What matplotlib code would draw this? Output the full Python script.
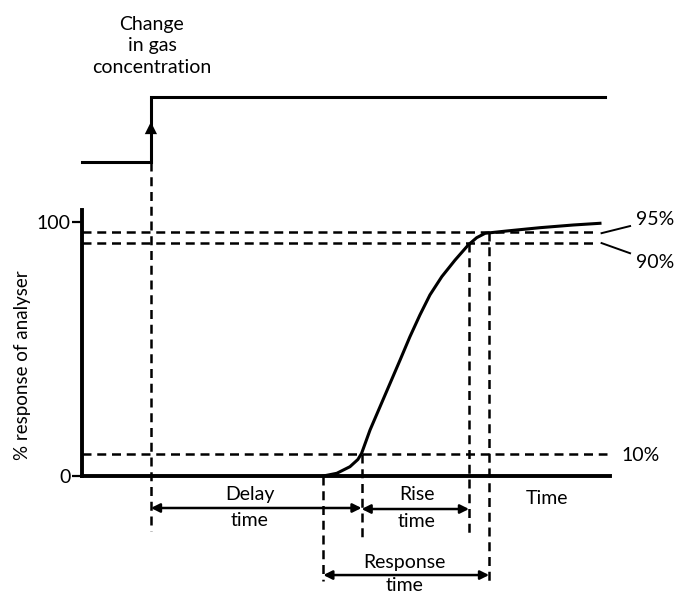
#!/usr/bin/env python3
"""Analyser response to a step change in gas concentration."""

import matplotlib.pyplot as plt

plt.rcParams['font.family'] = ['Lato', 'DejaVu Sans']

# --- data (time in arbitrary units, response in %) ---
curve_t = [9.14, 9.65, 10.15, 10.45, 10.59, 10.91, 11.29, 11.67, 12.05,
           12.42, 12.80, 13.18, 13.63, 14.13, 14.63, 14.95, 15.27, 16.09,
           17.35, 18.61, 19.62]
curve_pct = [0.0, 1.06, 3.66, 6.5, 8.9, 18.1, 27.3, 36.5, 45.7,
             54.8, 63.4, 71.3, 78.5, 85.0, 90.94, 93.82, 95.55, 96.46,
             97.76, 98.82, 99.49]

step_t = [0.0, 2.61, 2.61, 19.8]
step_level = [123.6, 123.6, 149.2, 149.2]

t_change = 2.61      # gas concentration steps
t_start = 9.14       # analyser starts to respond
t_10 = 10.59         # 10 % reached
t_90 = 14.66         # 90 % reached
t_95 = 15.42         # 95 % reached

levels = [8.7, 91.7, 96.1]
level_labels = ['10%', '90%', '95%']
yticks = [0, 100]

DASH = dict(color='black', lw=1.8, ls=(0, (3.6, 2.3)))
FS = 14


def harrow(ax, x0, x1, y):
    ax.annotate('', xy=(x1, y), xytext=(x0, y),
                arrowprops=dict(arrowstyle='<|-|>', color='black', lw=1.8,
                                mutation_scale=13, shrinkA=0, shrinkB=0))


fig = plt.figure(figsize=(6.76, 5.94), dpi=100)
ax = fig.add_axes([0, 0, 1, 1])
ax.set_xlim(-3.106, 22.5)
ax.set_ylim(-46.46, 187.4)

# axes as spines
for s in ('top', 'right'):
    ax.spines[s].set_visible(False)
ax.spines['left'].set_position(('data', 0))
ax.spines['bottom'].set_position(('data', 0))
ax.spines['left'].set_bounds(0, 104.7)
ax.spines['bottom'].set_bounds(0, 20.0)
ax.spines['left'].set_linewidth(2.8)
ax.spines['bottom'].set_linewidth(2.8)
ax.set_xticks([])
ax.set_yticks(yticks)
ax.set_yticklabels([str(v) for v in yticks], fontsize=FS)
ax.tick_params(axis='y', length=7, width=1.6, pad=1)

# step in gas concentration
ax.plot(step_t, step_level, color='black', lw=2.2, solid_joinstyle='miter')
ax.annotate('', xy=(t_change, 139.4), xytext=(t_change, 130),
            arrowprops=dict(arrowstyle='-|>', color='black', lw=0,
                            mutation_scale=22, shrinkA=0, shrinkB=0))

# response curve
ax.plot(curve_t, curve_pct, color='black', lw=2.2, solid_joinstyle='round')

# horizontal level lines
ax.plot([0, 19.5], [levels[2]] * 2, **DASH)
ax.plot([0, 19.5], [levels[1]] * 2, **DASH)
ax.plot([0, 19.9], [levels[0]] * 2, **DASH)
ax.plot([19.68, 20.76], [levels[2] - 0.5, 98.4], color='black', lw=1.4)
ax.plot([19.68, 20.76], [levels[1], 87.7], color='black', lw=1.4)
ax.text(21.0, 100.8, level_labels[2], fontsize=FS, va='center')
ax.text(21.0, 83.9, level_labels[1], fontsize=FS, va='center')
ax.text(20.45, 7.9, level_labels[0], fontsize=FS, va='center')

# vertical marker lines
ax.plot([t_change, t_change], [123.6, -21.5], **DASH)
ax.plot([t_start, t_start], [0, -41.5], **DASH)
ax.plot([t_10, t_10], [levels[0], -24], **DASH)
ax.plot([t_90, t_90], [levels[1], -24], **DASH)
ax.plot([t_95, t_95], [levels[2], -43], **DASH)

# interval arrows
harrow(ax, t_change, t_10, -12.6)
harrow(ax, t_10, t_90, -13.0)
harrow(ax, t_start, t_95, -39.0)

# texts
ax.text(2.65, 169.3, 'Change\nin gas\nconcentration', fontsize=FS,
        ha='center', va='center', linespacing=1.35)
ax.text(-2.25, 43.7, '% response of analyser', fontsize=13.5,
        rotation=90, ha='center', va='center')
ax.text(6.36, -7.3, 'Delay', fontsize=FS, ha='center', va='center')
ax.text(6.36, -17.7, 'time', fontsize=FS, ha='center', va='center')
ax.text(12.69, -7.3, 'Rise', fontsize=FS, ha='center', va='center')
ax.text(12.69, -18.1, 'time', fontsize=FS, ha='center', va='center')
ax.text(12.23, -33.9, 'Response', fontsize=FS, ha='center', va='center')
ax.text(12.23, -43.3, 'time', fontsize=FS, ha='center', va='center')
ax.text(17.6, -8.7, 'Time', fontsize=FS, ha='center', va='center')

fig.savefig('out.png', dpi=100, facecolor='white')
